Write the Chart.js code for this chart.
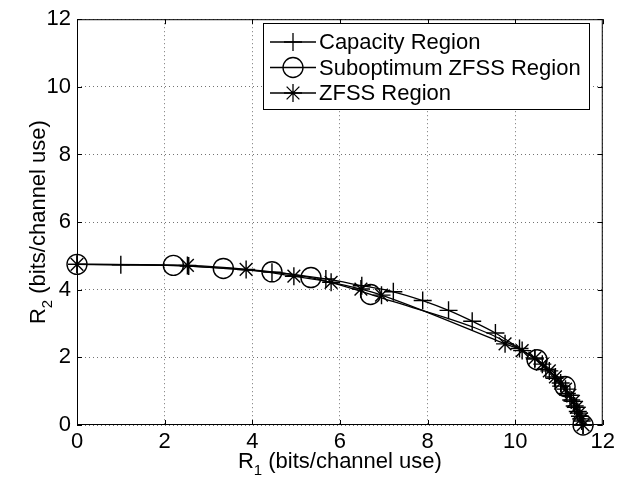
<!DOCTYPE html>
<html>
<head>
<meta charset="utf-8">
<script src="https://cdn.jsdelivr.net/npm/chart.js@4.4.1/dist/chart.umd.min.js"></script>
<style>
html, body { margin: 0; padding: 0; background: #fff; }
#wrap { width: 619px; height: 480px; position: relative; }
</style>
</head>
<body>
<div id="wrap"><canvas id="grafico"></canvas></div>
<script>
// eixos
const xTicks = [0, 2, 4, 6, 8, 10, 12];
const yTicks = [0, 2, 4, 6, 8, 10, 12];
const seriesNames = ['Capacity Region', 'Suboptimum ZFSS Region', 'ZFSS Region'];

// Capacity Region (+)
const capX = [0, 1.0, 2.55, 4.45, 5.68, 6.5, 7.22, 7.89, 8.48, 9.02, 9.55, 10.1, 10.45, 10.7, 10.9, 11.05, 11.18, 11.28, 11.36, 11.43, 11.48, 11.52, 11.55];
const capY = [4.75, 4.74, 4.70, 4.52, 4.32, 4.12, 3.94, 3.68, 3.39, 3.07, 2.72, 2.26, 1.95, 1.65, 1.38, 1.15, 0.93, 0.74, 0.56, 0.40, 0.26, 0.12, 0];

// Suboptimum ZFSS Region (o)
const subX = [0, 2.2, 3.34, 4.45, 5.34, 6.7, 10.5, 11.14, 11.55];
const subY = [4.75, 4.72, 4.63, 4.53, 4.36, 3.86, 1.93, 1.14, 0];

// ZFSS Region (*)
const zfssX = [0, 2.52, 3.86, 4.95, 5.8, 6.48, 6.95, 9.77, 10.16, 10.45, 10.62, 10.78, 10.92, 11.04, 11.15, 11.25, 11.33, 11.4, 11.46, 11.51, 11.55];
const zfssY = [4.75, 4.72, 4.6, 4.4, 4.22, 4.02, 3.84, 2.4, 2.2, 1.98, 1.8, 1.6, 1.42, 1.24, 1.06, 0.88, 0.7, 0.52, 0.35, 0.18, 0];

const FONT = "'Liberation Sans', Arial, Helvetica, sans-serif";
const pts = (xs, ys) => xs.map((x, i) => ({ x: x, y: ys[i] }));

const estilo = [
    { pointStyle: 'cross', radius: 9 },
    { pointStyle: 'circle', radius: 10 },
    { pointStyle: 'star', radius: 9 }
];

function serie(i, data) {
    return {
        label: seriesNames[i],
        data: data,
        showLine: true,
        clip: false,
        borderColor: '#000',
        borderWidth: 1.3,
        backgroundColor: 'rgba(0,0,0,0)',
        pointStyle: estilo[i].pointStyle,
        pointRadius: estilo[i].radius,
        pointBorderColor: '#000',
        pointBackgroundColor: 'rgba(0,0,0,0)',
        pointBorderWidth: 1.4,
        cubicInterpolationMode: 'monotone',
        fill: false
    };
}

// moldura, ticks para dentro, titulos e legenda
const moldura = {
    id: 'moldura',
    afterDraw(chart) {
        const ctx = chart.ctx;
        const a = chart.chartArea;
        const sx = chart.scales.x, sy = chart.scales.y;
        ctx.save();
        ctx.strokeStyle = '#000';
        ctx.lineWidth = 1;
        ctx.strokeRect(a.left + 0.5, a.top + 0.5, a.right - a.left - 1, a.bottom - a.top - 1);
        ctx.beginPath();
        xTicks.forEach(v => {
            const px = Math.round(sx.getPixelForValue(v)) + 0.5;
            ctx.moveTo(px, a.bottom); ctx.lineTo(px, a.bottom - 5);
            ctx.moveTo(px, a.top); ctx.lineTo(px, a.top + 5);
        });
        yTicks.forEach(v => {
            const py = Math.round(sy.getPixelForValue(v)) + 0.5;
            ctx.moveTo(a.left, py); ctx.lineTo(a.left + 5, py);
            ctx.moveTo(a.right, py); ctx.lineTo(a.right - 5, py);
        });
        ctx.stroke();

        // titulos dos eixos com subscrito
        ctx.fillStyle = '#000';
        ctx.textBaseline = 'alphabetic';
        const big = '22px ' + FONT, small = '15px ' + FONT;
        function titulo(sub, x0, y0) {
            ctx.font = big;
            const wR = ctx.measureText('R').width;
            const rest = ' (bits/channel use)';
            const wRest = ctx.measureText(rest).width;
            ctx.font = small;
            const wS = ctx.measureText(sub).width;
            const total = wR + wS + wRest;
            let x = x0 - total / 2;
            ctx.font = big; ctx.textAlign = 'left';
            ctx.fillText('R', x, y0); x += wR;
            ctx.font = small; ctx.fillText(sub, x, y0 + 7); x += wS;
            ctx.font = big; ctx.fillText(rest, x, y0);
        }
        titulo('1', (a.left + a.right) / 2, 468);
        ctx.save();
        ctx.translate(45, (a.top + a.bottom) / 2);
        ctx.rotate(-Math.PI / 2);
        titulo('2', 0, 0);
        ctx.restore();

        // legenda
        const L = { left: 263, top: 23, right: 589, bottom: 109 };
        ctx.fillStyle = '#fff';
        ctx.fillRect(L.left, L.top, L.right - L.left, L.bottom - L.top);
        ctx.strokeStyle = '#000';
        ctx.lineWidth = 1;
        ctx.strokeRect(L.left + 0.5, L.top + 0.5, L.right - L.left, L.bottom - L.top);
        chart.data.datasets.forEach((ds, i) => {
            const y = 42 + i * 25.5;
            ctx.strokeStyle = '#000';
            ctx.lineWidth = 1.3;
            ctx.beginPath();
            ctx.moveTo(270, y); ctx.lineTo(316, y);
            ctx.stroke();
            ctx.fillStyle = 'rgba(0,0,0,0)';
            Chart.helpers.drawPoint(ctx, { pointStyle: ds.pointStyle, radius: ds.pointRadius, rotation: 0, borderWidth: 1.4 }, 293, y);
            ctx.fillStyle = '#000';
            ctx.font = '22px ' + FONT;
            ctx.textAlign = 'left';
            ctx.textBaseline = 'middle';
            ctx.fillText(ds.label, 319, y + 1);
        });
        ctx.restore();
    }
};

const gridOpts = { color: 'rgba(0,0,0,0.55)', lineWidth: 1, drawTicks: false };

new Chart(document.getElementById('grafico'), {
    type: 'scatter',
    data: {
        datasets: [
            serie(0, pts(capX, capY)),
            serie(1, pts(subX, subY)),
            serie(2, pts(zfssX, zfssY))
        ]
    },
    options: {
        responsive: true,
        maintainAspectRatio: false,
        animation: false,
        events: [],
        layout: { padding: { top: 14, right: 14, left: 0, bottom: 0 } },
        plugins: { legend: { display: false }, tooltip: { enabled: false } },
        scales: {
            x: {
                type: 'linear', min: 0, max: 12,
                afterBuildTicks: s => { s.ticks = xTicks.map(v => ({ value: v })); },
                afterFit: s => { s.height = 55; },
                grid: gridOpts,
                border: { display: false, dash: [1, 3] },
                ticks: { color: '#000', font: { size: 22, family: FONT }, padding: 4, maxRotation: 0, autoSkip: false }
            },
            y: {
                type: 'linear', min: 0, max: 12,
                afterBuildTicks: s => { s.ticks = yTicks.map(v => ({ value: v })); },
                afterFit: s => { s.width = 77; },
                grid: gridOpts,
                border: { display: false, dash: [1, 3] },
                ticks: { color: '#000', font: { size: 22, family: FONT }, padding: 6, autoSkip: false }
            }
        }
    },
    plugins: [moldura]
});
</script>
</body>
</html>
